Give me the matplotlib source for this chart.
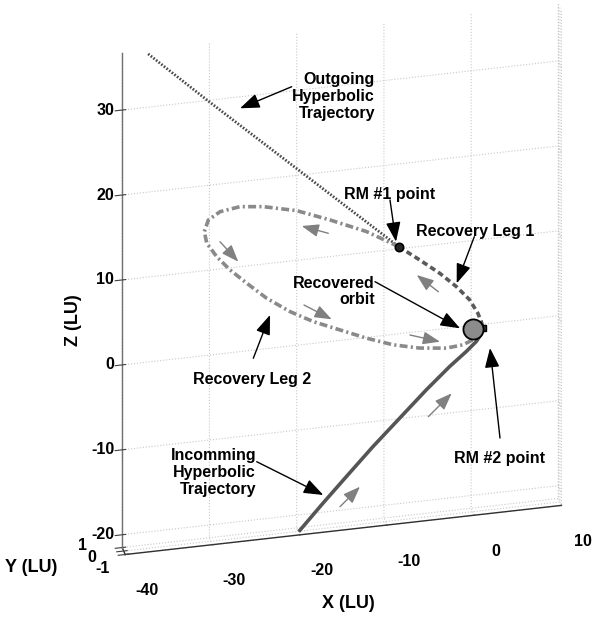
import numpy as np
import matplotlib
matplotlib.use('Agg')
import matplotlib.pyplot as plt
from mpl_toolkits.mplot3d import proj3d

plt.rcParams['font.family'] = ['Liberation Sans', 'DejaVu Sans']
plt.rcParams['font.weight'] = 'bold'
plt.rcParams['axes.labelweight'] = 'bold'
plt.rcParams['font.size'] = 11.5
plt.rcParams['grid.color'] = '#c8c8c8'
plt.rcParams['grid.linestyle'] = ':'
plt.rcParams['grid.linewidth'] = 0.8

# trajectories (LU), all of them lie in the y = 0 plane
out_x = [-37.2, -30.3, -8.48]
out_z = [36.7, 30.35, 10.69]

leg1_x = [-8.48, -6.08, -3.79, -1.88, -0.35, 0.59, 0.98, 1.2]
leg1_z = [10.69, 8.85, 7.02, 5.23, 3.49, 1.81, 0.78, 0.0]

leg2_x = [1.2, 0.79, 0.02, -1.12, -3.02, -6.08, -9.13, -12.17, -15.23, -18.28,
          -20.95, -23.62, -25.9, -27.81, -29.34, -30.48, -30.76, -30.3, -28.96,
          -26.67, -24.0, -20.18, -16.37, -12.17, -8.48]
leg2_z = [0.0, -0.76, -1.26, -1.72, -1.89, -1.53, -0.79, 0.34, 1.67, 3.0,
          4.49, 6.37, 8.4, 10.18, 11.92, 13.63, 15.03, 16.35, 17.17,
          17.5, 17.19, 16.28, 14.75, 12.89, 10.69]

inc_x = [-19.81, -17.14, -14.46, -11.42, -8.36, -5.31, -2.64, -0.73, 0.41, 0.98, 1.2]
inc_z = [-21.4, -18.49, -15.67, -12.5, -9.51, -6.53, -4.1, -2.55, -1.51, -0.67, 0.0]

rm1 = (-8.48, 10.69)
rm2 = (1.2, 0.0)
orbit_c = (0.0, 0.0)

xlim = (-40, 10)
ylim = (-1, 1)
zlim = (-21.5, 36.7)
xticks = [-40, -30, -20, -10, 0, 10]
yticks = [-1, 0, 1]
zticks = [-20, -10, 0, 10, 20, 30]

W, H = 595, 624
fig = plt.figure(figsize=(W / 100, H / 100), dpi=100)
ax = fig.add_axes([0, 0, 1, 1], projection='3d')
ax.computed_zorder = False
ax.set_proj_type('ortho')
ax.view_init(elev=30.8, azim=-102.4)
ax.set_box_aspect((447, 14, 576), zoom=1.2)

def zeros(n):
    return np.zeros(len(n))

ax.plot(out_x, zeros(out_x), out_z, color='#4a4a4a', lw=2.0,
        dashes=(0.6, 0.6), zorder=3)
ax.plot(leg2_x, zeros(leg2_x), leg2_z, color='#8a8a8a', lw=2.6,
        dashes=(2.2, 0.9, 0.6, 0.9), zorder=3)
ax.plot(leg1_x, zeros(leg1_x), leg1_z, color='#5a5a5a', lw=2.6,
        dashes=(1.6, 1.0), zorder=4)
ax.plot(inc_x, zeros(inc_x), inc_z, color='#555555', lw=2.6, zorder=4)
ax.plot([rm2[0]], [0], [rm2[1]], 's', ms=5, mfc='#303030', mec='black', zorder=5)
ax.plot([orbit_c[0]], [0], [orbit_c[1]], 'o', ms=14.5, mfc='#8c8c8c',
        mec='black', mew=1.3, zorder=6)
ax.plot([rm1[0]], [0], [rm1[1]], 'o', ms=6, mfc='#262626', mec='black',
        mew=1.2, zorder=6)

ax.set_xlim(*xlim)
ax.set_ylim(*ylim)
ax.set_zlim(*zlim)
ax.set_xticks(xticks)
ax.set_yticks(yticks)
ax.set_zticks(zticks)
# tick labels are written below, at the places MATLAB put them
ax.set_xticklabels([])
ax.set_yticklabels([])
ax.set_zticklabels([])
ax.tick_params(colors='#404040')
for a in (ax.xaxis, ax.yaxis, ax.zaxis):
    a.set_pane_color((1, 1, 1, 0))
    a.line.set_color('#303030')
    a.line.set_linewidth(1.0)
ax.zaxis.line.set_color('#707070')
ax.grid(True)

# scale and shift the axes so the box corners land where the reference has them
fig.canvas.draw()

def to_px(xs, ys, zs):
    p = proj3d.proj_transform(np.asarray(xs, float), np.asarray(ys, float),
                              np.asarray(zs, float), ax.get_proj())
    return ax.transData.transform(np.column_stack(p[:2]))

corners = np.array([(-40, -1, zlim[0]), (10, -1, zlim[0]), (-40, 1, zlim[1]),
                    (-40, 1, zlim[0]), (0, 0, 0)], dtype=float)
targets = np.array([(125, 554), (562, 505), (122, 53), (122, 547), (472.7, 330.7)],
                   dtype=float)
targets[:, 1] = H - targets[:, 1]
q = to_px(corners[:, 0], corners[:, 1], corners[:, 2])
qm, tm = q.mean(0), targets.mean(0)
r = np.sum((q - qm) * (targets - tm)) / np.sum((q - qm) ** 2)
T = tm - r * qm
bb = ax.get_position()
c0 = np.array([bb.x0 * W, bb.y0 * H])
c1 = T + r * c0
side1 = r * bb.width * W
ax.set_position([c1[0] / W, c1[1] / H, side1 / W, side1 / H])

def put(px, py, s, size=11.5, **kw):
    fig.text(px / W, py / H, s, fontsize=size, fontweight='bold', **kw)

# tick labels
q = to_px(xticks, [-1] * len(xticks), [zlim[0]] * len(xticks))
for (px, py), t in zip(q, xticks):
    put(px + 22, py - 36, str(t), ha='center', va='center')
q = to_px([-40] * len(zticks), [1] * len(zticks), zticks)
for (px, py), t in zip(q, zticks):
    put(px - 8, py, str(t), ha='right', va='center')
y_off = {-1: (-23, -14), 0: (-32, -6.5), 1: (-40, 2)}
q = to_px([-40] * len(yticks), yticks, [zlim[0]] * len(yticks))
for (px, py), t in zip(q, yticks):
    dx, dy = y_off[t]
    put(px + dx, py + dy, str(t), ha='center', va='center')

# axis labels
put(348, H - 604, 'X (LU)', size=13, ha='center', va='center')
put(31, H - 568, 'Y (LU)', size=13, ha='center', va='center')
put(73, H - 320, 'Z (LU)', size=13, ha='center', va='center', rotation=90)

def fpos(x, y):
    return (x / W, 1 - y / H)

def arrow(tail, head, color='black', lw=1.0, ms=15):
    ax.annotate('', xy=fpos(*head), xytext=fpos(*tail), xycoords='figure fraction',
                textcoords='figure fraction', annotation_clip=False,
                arrowprops=dict(arrowstyle='-|>,head_length=0.8,head_width=0.3',
                                color=color, lw=lw, mutation_scale=ms,
                                shrinkA=0, shrinkB=0), zorder=10)

def label(x, y, s, ha='center'):
    fig.text(x / W, 1 - y / H, s, ha=ha, va='center', fontsize=11.5,
             fontweight='bold', linespacing=1.15, multialignment=ha)

label(375, 96.7, 'Outgoing\nHyperbolic\nTrajectory', ha='right')
label(390, 195, 'RM #1 point')
label(475.5, 231.7, 'Recovery Leg 1')
label(375, 291.5, 'Recovered\norbit', ha='right')
label(252.3, 379.3, 'Recovery Leg 2')
label(256, 472.7, 'Incomming\nHyperbolic\nTrajectory', ha='right')
label(500, 458.3, 'RM #2 point')

arrow((291.7, 86.7), (240, 108.3))
arrow((390, 200), (396, 241.7))
arrow((474.3, 236.7), (456.7, 283.3))
arrow((375, 281.7), (460, 328.3))
arrow((253.3, 358.3), (270, 315))
arrow((256.7, 461.7), (323.3, 495))
arrow((500, 438), (490, 348))

gray = '#808080'
arrow((328.3, 233.3), (301.7, 226), color=gray, ms=13)
arrow((220, 241.7), (238.3, 261.7), color=gray, ms=13)
arrow((304, 305), (331.7, 319.3), color=gray, ms=13)
arrow((410, 335), (440, 341.7), color=gray, ms=13)
arrow((438.3, 291.7), (416.7, 275), color=gray, ms=13)
arrow((340, 506.7), (360, 486.7), color=gray, ms=13)
arrow((428.3, 416.7), (451.7, 393.3), color=gray, ms=13)

fig.savefig('out.png', dpi=100, facecolor='white')
